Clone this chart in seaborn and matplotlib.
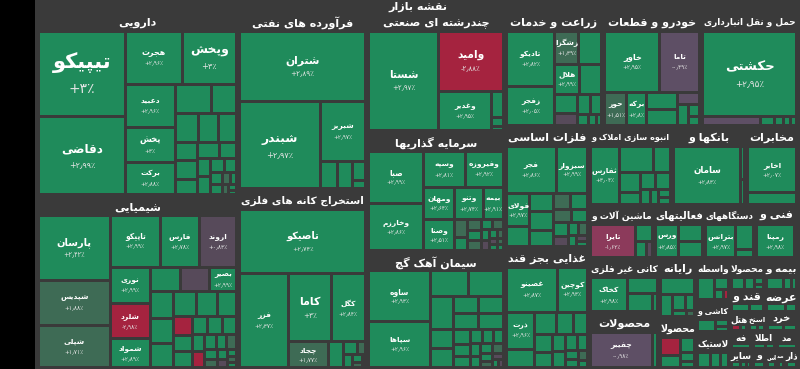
import numpy as np
import pandas as pd
import matplotlib
matplotlib.use("Agg")
import matplotlib.pyplot as plt
from matplotlib.patches import Rectangle
from matplotlib import font_manager
from matplotlib.ft2font import FT2Font
from matplotlib.textpath import TextToPath
from matplotlib.font_manager import FontProperties
import seaborn as sns

# ---------------------------------------------------------------- data
chart_title = "نقشه بازار"

daru_title = "دارویی"
daru_tickers = ["تیپیکو", "دقاضی", "هجرت", "وپخش", "دعبید", "پخش", "برکت"] + [""] * 21
daru_values = [85.3, 77.3, 34.6, 33.4, 24.8, 19.6, 18.4, 12.1, 8.3, 7.7, 6.7, 6.0, 4.8, 4.7,
               4.0, 4.0, 3.3, 2.7, 2.7, 2.4, 2.0, 1.6, 1.4, 1.0, 0.8, 0.7, 0.6, 0.4]
daru_changes = [3.0, 2.99, 2.96, 3.0, 2.96, 3.0, 2.88, 2.9, 2.95, 2.8, 2.9, 2.97, 2.6, 2.9,
                2.85, 2.9, 2.7, 2.9, 2.5, 2.9, 2.3, 2.8, 2.9, 1.8, 2.9, 1.5, 2.9, 2.2]

shimi_title = "شیمیایی"
shimi_tickers = ["پارسان", "شپدیس", "شپلی", "تاپیکو", "فارس", "اروند", "نوری", "شلرد", "شمواد",
                 "", "", "بصیر"] + [""] * 24
shimi_values = [54.0, 37.3, 34.9, 30.7, 23.5, 22.9, 16.5, 16.4, 13.2,
                8.3, 8.2, 7.5, 7.2, 6.6, 6.6, 6.4, 6.0, 5.4, 4.1,
                3.6, 3.4, 3.1, 3.0, 3.0, 2.4, 2.2, 2.2, 1.8, 1.8,
                1.4, 1.2, 1.1, 1.0, 0.7, 0.6, 0.5]
shimi_changes = [2.42, 1.88, 1.71, 2.99, 2.78, 0.83, 2.99, -2.98, 2.89,
                 2.9, 0.4, 2.99, 2.9, 2.8, 2.9, 2.95, 2.7, 2.9, -2.9,
                 2.9, 2.8, 2.9, 2.6, 2.9, 2.9, -2.5, 2.9, 2.7, 1.5,
                 2.9, 1.2, 2.9, 0.5, 2.9, 1.6, 2.8]

naft_title = "فرآورده های نفتی"
naft_tickers = ["شتران", "شبندر", "شبریز"] + [""] * 4
naft_values = [103.5, 80.7, 31.3, 5.4, 4.8, 3.0, 1.2]
naft_changes = [2.89, 2.97, 2.97, 2.9, 2.9, 2.9, 2.9]

kane_title = "استخراج کانه های فلزی"
kane_tickers = ["تاصیکو", "فزر", "کاما", "کگل", "چجاد"] + [""] * 7
kane_values = [94.5, 52.6, 33.9, 27.2, 11.8, 4.7, 2.0, 1.2, 1.2, 0.9, 0.6, 0.5]
kane_changes = [2.74, 2.37, 3.0, 2.84, 1.77, 2.9, 2.9, 1.5, 2.9, 2.9, 1.0, 0.5]

chand_title = "چندرشته ای صنعتی"
chand_tickers = ["شستا", "وامید", "وغدیر"] + [""] * 3
chand_values = [86.2, 48.0, 26.2, 3.7, 1.2, 0.6]
chand_changes = [2.97, -2.88, 2.95, 2.9, 2.9, 2.9]

sarmaye_title = "سرمایه گذاریها"
sarmaye_tickers = ["صبا", "وخارزم", "وسپه", "وفیروزه", "ومهان", "وصنا", "وتنو", "بیمه"] + [""] * 15
sarmaye_values = [35.1, 32.2, 18.6, 16.9, 12.0, 11.9, 11.6, 7.6, 3.1, 2.1, 2.0, 1.7, 1.6, 1.4,
                  1.3, 1.1, 1.0, 0.9, 0.7, 0.7, 0.6, 0.4, 0.4]
sarmaye_changes = [2.99, 2.86, 2.81, 2.92, 2.64, 2.51, 2.74, 2.91, 1.6, 2.9, 1.4, 2.8, 1.3, 2.9,
                   1.2, 2.7, 0.8, 2.9, 1.5, 0.6, 2.9, 1.1, 2.9]

siman_title = "سیمان آهک گچ"
siman_tickers = ["ساوه", "سپاها"] + [""] * 24
siman_values = [38.7, 35.6, 11.9, 11.1, 9.5, 5.4, 5.4, 5.4, 5.4, 4.9, 4.9, 3.2, 2.4, 2.4, 2.1,
                1.9, 1.7, 1.6, 1.4, 1.3, 1.3, 1.1, 0.9, 0.8, 0.6, 0.5]
siman_changes = [2.93, 2.96, 2.9, 2.95, 2.9, 2.9, 2.85, 2.9, 2.95, 2.9, 2.8, 2.9, 2.9, 2.7, 2.9,
                 2.9, 2.8, 2.9, 2.6, 2.9, 1.5, 2.9, 1.2, 0.6, 2.9, 0.3]

zeraat_title = "زراعت و خدمات"
zeraat_tickers = ["تادیکو", "زفجر", "زشگزا", "", "هلال"] + [""] * 8
zeraat_values = [34.0, 24.1, 9.9, 9.6, 9.2, 8.5, 5.4, 3.5, 3.5, 2.8, 1.7, 1.1, 0.8]
zeraat_changes = [2.82, 2.05, 1.39, 2.9, 2.99, 2.9, 2.9, 0.3, 2.9, 2.9, 2.9, 2.9, 2.9]

khodro_title = "خودرو و قطعات"
khodro_tickers = ["خاور", "تاما", "حور", "برکه"] + [""] * 6
khodro_values = [42.7, 30.8, 8.9, 8.4, 6.6, 6.2, 3.3, 3.0, 1.7, 1.4]
khodro_changes = [2.95, -0.49, 1.51, 2.8, 2.9, 2.9, -0.4, 2.9, 2.9, 2.9]

haml_title = "حمل و نقل انبارداری"
haml_tickers = ["حکشتی"] + [""] * 5
haml_values = [101.3, 6.6, 1.6, 1.05, 0.8, 0.65]
haml_changes = [2.95, -0.3, 2.9, 2.9, 2.9, 2.9]

felezat_title = "فلزات اساسی"
felezat_tickers = ["فجر", "سبزوار", "فولای"] + [""] * 15
felezat_values = [29.2, 18.4, 9.9, 6.0, 5.4, 5.4, 4.7, 3.5, 3.4, 3.0, 2.7, 2.7, 2.0, 1.6, 1.4,
                  1.1, 0.8, 0.7]
felezat_changes = [2.86, 2.99, 2.97, 2.9, 2.9, 2.9, 2.8, 1.6, 2.9, 1.2, 2.9, 2.9, 0.5, 2.9, 1.0,
                   2.9, 0.3, 2.9]

ghaza_title = "غذایی بجز قند"
ghaza_tickers = ["غصینو", "کوچین", "ذرت"] + [""] * 14
ghaza_values = [29.0, 17.1, 13.2, 6.6, 5.8, 4.6, 3.9, 3.9, 3.3, 2.9, 2.6, 2.4, 2.0, 1.6, 1.3,
                1.1, 0.8]
ghaza_changes = [2.87, 2.93, 2.96, 2.9, 2.9, 2.9, 2.8, 2.9, 2.9, 2.7, 2.9, 2.9, 2.9, 2.5, 2.9,
                 1.5, 2.9]

anbooh_title = "انبوه سازی املاک و"
anbooh_tickers = ["ثفارس"] + [""] * 10
anbooh_values = [23.4, 12.8, 6.3, 5.8, 3.5, 3.5, 3.5, 2.1, 1.7, 1.4, 1.1]
anbooh_changes = [3.04, 2.9, 2.9, 2.9, 2.9, 2.9, 2.9, 2.9, 2.8, 2.9, 2.9]

bank_title = "بانکها و"
bank_tickers = ["سامان", "", ""]
bank_values = [55.0, 1.7, 1.3]
bank_changes = [2.83, 2.9, 2.9]

mokh_title = "مخابرات"
mokh_tickers = ["اخابر", ""]
mokh_values = [33.0, 8.0]
mokh_changes = [2.07, 2.9]

mashin_title = "ماشین آلات و"
mashin_tickers = ["تایرا", "", "", ""]
mashin_values = [25.0, 5.0, 3.0, 1.5]
mashin_changes = [-1.62, 2.9, 2.9, 0.5]

faal_title = "فعالیتهای"
faal_tickers = ["ورس", "", ""]
faal_values = [13.0, 7.3, 6.7]
faal_changes = [2.85, 2.9, 2.9]

dastgah_title = "دستگاههای"
dastgah_tickers = ["بترانس", "", ""]
dastgah_values = [16.5, 8.0, 2.5]
dastgah_changes = [2.97, 2.9, 2.9]

fani_title = "فنی و"
fani_tickers = ["رمپنا", ""]
fani_values = [21.5, 1.3]
fani_changes = [2.98, 2.9]

kani_title = "کانی غیر فلزی"
kani_tickers = ["کخاک", "", "", ""]
kani_values = [21.4, 7.7, 7.7, 1.7]
kani_changes = [2.98, 2.9, 2.9, 2.9]

mahsool_title = "محصولات"
mahsool_tickers = ["چفیبر", ""]
mahsool_values = [36.0, 3.2]
mahsool_changes = [-0.98, 2.9]

mini_titles = ["رایانه", "محصولا", "واسطه", "کاشی و", "لاستیک", "محصولا", "بیمه و", "قند و",
               "عرضه", "هتل", "استخ", "خرد", "فه", "اطلا", "مد", "سایر", "و", "اس", "صد", "ذار"]
mini_values = [[9.5, 4.5, 3.2, 2.5, 1.5, 1.0], [6.5, 4.5, 4.0, 2.3, 1.5], [7.5, 3.5, 1.9, 1.0],
               [6.5, 2.6, 1.8], [5.0, 4.0, 2.9], [4.5, 3.5, 2.0, 1.2], [6.0, 3.0, 1.6],
               [4.5, 3.2], [4.6, 2.7], [2.2, 1.4], [2.0, 1.6], [3.5, 2.9], [4.0], [2.5, 1.8],
               [3.9], [2.0, 1.3, 0.9], [2.7], [2.0], [1.5], [2.5]]
mini_changes = [[2.9, 2.9, 2.8, 2.9, 2.9, 1.5], [-2.9, 2.9, 2.9, 2.9, 2.9], [2.9, 2.9, 2.9, -2.9],
                [2.9, 2.9, 2.9], [2.9, 2.9, 2.9], [2.9, 2.9, 2.9, 2.9], [2.9, 2.9, 2.9],
                [2.9, 2.9], [2.9, 2.9], [-2.9, 2.9], [2.9, 2.9], [2.9, 2.9], [2.9], [2.9, 2.9],
                [2.9], [2.9, 2.9, 2.9], [2.9], [2.9], [2.9], [2.9]]

# ---------------------------------------------------------------- style
BG = "#3a3a3a"
STEP_COLORS = sns.color_palette(["#a5233f", "#8c3a5b", "#5e4f65", "#574a5a", "#3e6b55", "#1f8b5b"])
TEXT = "#ffffff"
SUB = "#e6e6e6"

sns.set_theme(style="dark", rc={"figure.facecolor": BG, "axes.facecolor": BG})
plt.rcParams["font.family"] = ["DejaVu Sans"]

# ---------------------------------------------------------------- registry
sectors = {
    "daru": (daru_title, daru_tickers, daru_values, daru_changes),
    "shimi": (shimi_title, shimi_tickers, shimi_values, shimi_changes),
    "naft": (naft_title, naft_tickers, naft_values, naft_changes),
    "kane": (kane_title, kane_tickers, kane_values, kane_changes),
    "chand": (chand_title, chand_tickers, chand_values, chand_changes),
    "sarmaye": (sarmaye_title, sarmaye_tickers, sarmaye_values, sarmaye_changes),
    "siman": (siman_title, siman_tickers, siman_values, siman_changes),
    "zeraat": (zeraat_title, zeraat_tickers, zeraat_values, zeraat_changes),
    "khodro": (khodro_title, khodro_tickers, khodro_values, khodro_changes),
    "haml": (haml_title, haml_tickers, haml_values, haml_changes),
    "felezat": (felezat_title, felezat_tickers, felezat_values, felezat_changes),
    "ghaza": (ghaza_title, ghaza_tickers, ghaza_values, ghaza_changes),
    "anbooh": (anbooh_title, anbooh_tickers, anbooh_values, anbooh_changes),
    "bank": (bank_title, bank_tickers, bank_values, bank_changes),
    "mokh": (mokh_title, mokh_tickers, mokh_values, mokh_changes),
    "mashin": (mashin_title, mashin_tickers, mashin_values, mashin_changes),
    "faal": (faal_title, faal_tickers, faal_values, faal_changes),
    "dastgah": (dastgah_title, dastgah_tickers, dastgah_values, dastgah_changes),
    "fani": (fani_title, fani_tickers, fani_values, fani_changes),
    "kani": (kani_title, kani_tickers, kani_values, kani_changes),
    "mahsool": (mahsool_title, mahsool_tickers, mahsool_values, mahsool_changes),
}
for i, (t, v, c) in enumerate(zip(mini_titles, mini_values, mini_changes)):
    sectors[f"m{i}"] = (t, [""] * len(v), v, c)
for k, (t, tk, v, c) in sectors.items():
    if not (len(tk) == len(v) == len(c)):
        raise ValueError(f"length mismatch in {k}: {len(tk)} {len(v)} {len(c)}")

# nesting of sector blocks (H = side by side, V = stacked)
layout_tree = ("H", [
    ("V", ["daru", "shimi"]),
    ("V", ["naft", "kane"]),
    ("V", ["chand", "sarmaye", "siman"]),
    ("V", [
        ("H", ["zeraat", "khodro", "haml"]),
        ("H", [
            ("V", ["felezat", "ghaza"]),
            ("V", [
                ("H", ["anbooh", "bank", "mokh"]),
                ("H", ["mashin", "faal", "dastgah", "fani"]),
                ("H", [
                    ("V", ["kani", "mahsool"]),
                    ("V", ["m0", "m1"]),
                    ("V", ["m2", "m3", "m4"]),
                    ("V", [("H", ["m5", "m6"]), ("H", ["m7", "m8"]), ("H", ["m9", "m10", "m11"]),
                           ("H", ["m12", "m13", "m14"]), ("H", ["m15", "m16", "m17", "m18", "m19"])]),
                ]),
            ]),
        ]),
    ]),
])

# ---------------------------------------------------------------- fonts / shaping
path_b = font_manager.findfont(FontProperties(family="DejaVu Sans", weight="bold"))
path_r = font_manager.findfont(FontProperties(family="DejaVu Sans"))
_fb, _fr = FT2Font(path_b), FT2Font(path_r)
def has_b(ch): return _fb.get_char_index(ord(ch)) != 0
def has_r(ch): return _fr.get_char_index(ord(ch)) != 0

FORMS = {
    "ا": (0xFE8D, 0xFE8E), "آ": (0xFE81, 0xFE82), "أ": (0xFE83, 0xFE84), "إ": (0xFE87, 0xFE88),
    "ب": (0xFE8F, 0xFE90, 0xFE91, 0xFE92), "پ": (0xFB56, 0xFB57, 0xFB58, 0xFB59),
    "ت": (0xFE95, 0xFE96, 0xFE97, 0xFE98), "ث": (0xFE99, 0xFE9A, 0xFE9B, 0xFE9C),
    "ج": (0xFE9D, 0xFE9E, 0xFE9F, 0xFEA0), "چ": (0xFB7A, 0xFB7B, 0xFB7C, 0xFB7D),
    "ح": (0xFEA1, 0xFEA2, 0xFEA3, 0xFEA4), "خ": (0xFEA5, 0xFEA6, 0xFEA7, 0xFEA8),
    "د": (0xFEA9, 0xFEAA), "ذ": (0xFEAB, 0xFEAC), "ر": (0xFEAD, 0xFEAE), "ز": (0xFEAF, 0xFEB0),
    "ژ": (0xFB8A, 0xFB8B),
    "س": (0xFEB1, 0xFEB2, 0xFEB3, 0xFEB4), "ش": (0xFEB5, 0xFEB6, 0xFEB7, 0xFEB8),
    "ص": (0xFEB9, 0xFEBA, 0xFEBB, 0xFEBC), "ض": (0xFEBD, 0xFEBE, 0xFEBF, 0xFEC0),
    "ط": (0xFEC1, 0xFEC2, 0xFEC3, 0xFEC4), "ظ": (0xFEC5, 0xFEC6, 0xFEC7, 0xFEC8),
    "ع": (0xFEC9, 0xFECA, 0xFECB, 0xFECC), "غ": (0xFECD, 0xFECE, 0xFECF, 0xFED0),
    "ف": (0xFED1, 0xFED2, 0xFED3, 0xFED4), "ق": (0xFED5, 0xFED6, 0xFED7, 0xFED8),
    "ک": (0xFB8E, 0xFB8F, 0xFB90, 0xFB91), "گ": (0xFB92, 0xFB93, 0xFB94, 0xFB95),
    "ل": (0xFEDD, 0xFEDE, 0xFEDF, 0xFEE0), "م": (0xFEE1, 0xFEE2, 0xFEE3, 0xFEE4),
    "ن": (0xFEE5, 0xFEE6, 0xFEE7, 0xFEE8), "ه": (0xFEE9, 0xFEEA, 0xFEEB, 0xFEEC),
    "و": (0xFEED, 0xFEEE), "ی": (0xFBFC, 0xFBFD, 0xFBFE, 0xFBFF),
    "ي": (0xFEF1, 0xFEF2, 0xFEF3, 0xFEF4), "ك": (0xFED9, 0xFEDA, 0xFEDB, 0xFEDC),
    "ئ": (0xFE89, 0xFE8A, 0xFE8B, 0xFE8C),
}
DUAL = {c for c, f in FORMS.items() if len(f) == 4}
JOIN = set(FORMS)


def shape(text):
    chars = list(text)
    n = len(chars)
    out = []

    def joins_next(k):
        return 0 <= k < n - 1 and chars[k] in DUAL and chars[k + 1] in JOIN

    i = 0
    while i < n:
        c = chars[i]
        prev = joins_next(i - 1) if i > 0 else False
        if c == "ل" and i + 1 < n and chars[i + 1] in ("ا", "آ"):
            iso, fin = (0xFEFB, 0xFEFC) if chars[i + 1] == "ا" else (0xFEF5, 0xFEF6)
            g = chr(fin if prev else iso)
            if has_b(g):
                out.append(g)
                i += 2
                continue
        if c in FORMS:
            f = FORMS[c]
            nxt = joins_next(i)
            if len(f) == 2:
                idx = 1 if prev else 0
            else:
                idx = (3 if nxt else 1) if prev else (2 if nxt else 0)
            g = chr(f[idx])
            out.append(g if has_b(g) else c)
        elif c == "\u200c":
            pass
        else:
            out.append(c)
        i += 1
    return "".join(reversed(out))


PDIG = "۰۱۲۳۴۵۶۷۸۹" if all(has_r(ch) for ch in "۰۱۲۳۴۵۶۷۸۹") else "0123456789"
DSEP = "٫" if has_r("٫") else "/"
PCT = "٪" if has_r("٪") else "%"


def fmt_pct(c):
    s = f"{abs(c):.2f}".rstrip("0").rstrip(".")
    s = "".join(PDIG[int(ch)] if ch.isdigit() else DSEP for ch in s)
    return ("+" if c >= 0 else "-") + s + PCT


_ttp = TextToPath()
FP_B = FontProperties(family="DejaVu Sans", weight="bold", size=100)
FP_R = FontProperties(family="DejaVu Sans", weight="normal", size=100)


def text_w(s, fp):
    w, h, d = _ttp.get_text_width_height_descent(s, fp, ismath=False)
    return max(w / 100.0, 0.3)


def tile_color(c):
    if c >= 2:
        return STEP_COLORS[5]
    if c >= 1:
        return STEP_COLORS[4]
    if c >= 0:
        return STEP_COLORS[3]
    if c > -1:
        return STEP_COLORS[2]
    if c > -2:
        return STEP_COLORS[1]
    return STEP_COLORS[0]


# ---------------------------------------------------------------- layout
def node_value(node):
    if isinstance(node, str):
        return float(sum(sectors[node][2]))
    return sum(node_value(ch) for ch in node[1])


boxes = {}


def slice_layout(node, x, y, w, h):
    if isinstance(node, str):
        boxes[node] = (x, y, w, h)
        return
    kind, children = node
    tot = node_value(node)
    pos = 0.0
    for ch in children:
        f = node_value(ch) / tot
        if kind == "H":
            slice_layout(ch, x + pos, y, w * f, h)
            pos += w * f
        else:
            slice_layout(ch, x, y + pos, w, h * f)
            pos += h * f


def worst(row, length):
    s = sum(row)
    t = s / length
    return max(max(t * t / r, r / (t * t)) for r in row)


def squarify(areas, x, y, w, h):
    rects = []
    i = 0
    n = len(areas)
    while i < n:
        L = min(w, h)
        row = [areas[i]]
        j = i + 1
        while j < n and worst(row + [areas[j]], L) <= worst(row, L):
            row.append(areas[j])
            j += 1
        s = sum(row)
        last = j >= n
        if w >= h:
            t = w if last else s / h
            yy = y
            for r in row:
                hh = r / s * h
                rects.append((x, yy, t, hh))
                yy += hh
            x += t
            w -= t
        else:
            t = h if last else s / w
            xx = x
            for r in row:
                ww = r / s * w
                rects.append((xx, y, ww, t))
                xx += ww
            y += t
            h -= t
        i = j
    return rects


X0, X1, Y0, Y1 = 37.0, 798.0, 12.0, 369.0
slice_layout(layout_tree, X0, Y0, X1 - X0, Y1 - Y0)

# ---------------------------------------------------------------- draw
fig = plt.figure(figsize=(8.0, 3.69), dpi=100, facecolor=BG)
ax = fig.add_axes([0, 0, 1, 1])
ax.set_facecolor(BG)
ax.set_xlim(0, 800)
ax.set_ylim(369, 0)
ax.set_axis_off()

ax.add_patch(Rectangle((0, 0), 35, 369, facecolor="black", edgecolor="none", zorder=0))
ax.text((X0 + X1) / 2, 6.5, shape(chart_title), color=TEXT, fontsize=8.0, fontweight="bold",
        ha="center", va="center", family="DejaVu Sans")

PX2PT = 0.72
for key, (bx, by, bw, bh) in boxes.items():
    title, tickers, vals, chgs = sectors[key]
    hh = min(19.0, 0.6 * bh)
    # header
    st = shape(title)
    fs_h = min(8.0, 0.6 * hh)
    tw = text_w(st, FP_B) * fs_h / PX2PT
    if tw > 0.95 * bw:
        fs_h = max(3.5, fs_h * 0.95 * bw / tw)
    ax.text(bx + bw / 2, by + hh / 2 + 1.0, st, color=TEXT, fontsize=fs_h, fontweight="bold",
            ha="center", va="center", family="DejaVu Sans", zorder=4)
    # tiles
    rx, ry, rw, rh = bx + 1.5, by + hh, bw - 3.0, bh - hh - 1.5
    df = pd.DataFrame({"ticker": tickers, "value": vals, "change": chgs})
    df = df.sort_values("value", ascending=False, kind="stable").reset_index(drop=True)
    areas = (df["value"] / df["value"].sum() * rw * rh).tolist()
    rects = squarify(areas, rx, ry, rw, rh)
    for (tx, ty, tww, thh), row in zip(rects, df.itertuples()):
        x0, y0 = tx + 1.5, ty + 1.5
        w0, h0 = tww - 3.0, thh - 3.0
        if w0 <= 0.3 or h0 <= 0.3:
            continue
        patch = Rectangle((x0, y0), w0, h0, facecolor=tile_color(row.change), edgecolor="none",
                          zorder=2)
        ax.add_patch(patch)
        if row.ticker:
            nm = shape(row.ticker)
            pc = fmt_pct(row.change)
            m = min(w0, h0)
            pct_px = 0.38 * m / text_w(pc, FP_R)
            name_px = pct_px / 0.72
            name_px = min(name_px, 0.75 * w0 / text_w(nm, FP_B), 0.36 * h0, 21.0)
            name_px = max(name_px, 7.5)
            pct_px = max(0.66 * name_px, 5.8)
            gap = 0.45 * name_px
            block = name_px + gap + pct_px
            cx, cy = x0 + w0 / 2, y0 + h0 / 2
            t1 = ax.text(cx, cy - block / 2 + name_px / 2, nm, color=TEXT,
                         fontsize=name_px * PX2PT, fontweight="bold", ha="center", va="center",
                         family="DejaVu Sans", zorder=3)
            t2 = ax.text(cx, cy + block / 2 - pct_px / 2, pc, color=SUB,
                         fontsize=pct_px * PX2PT, ha="center", va="center",
                         family="DejaVu Sans", zorder=3)
            t1.set_clip_path(patch)
            t2.set_clip_path(patch)

fig.savefig("out.png", dpi=100, facecolor=BG)
